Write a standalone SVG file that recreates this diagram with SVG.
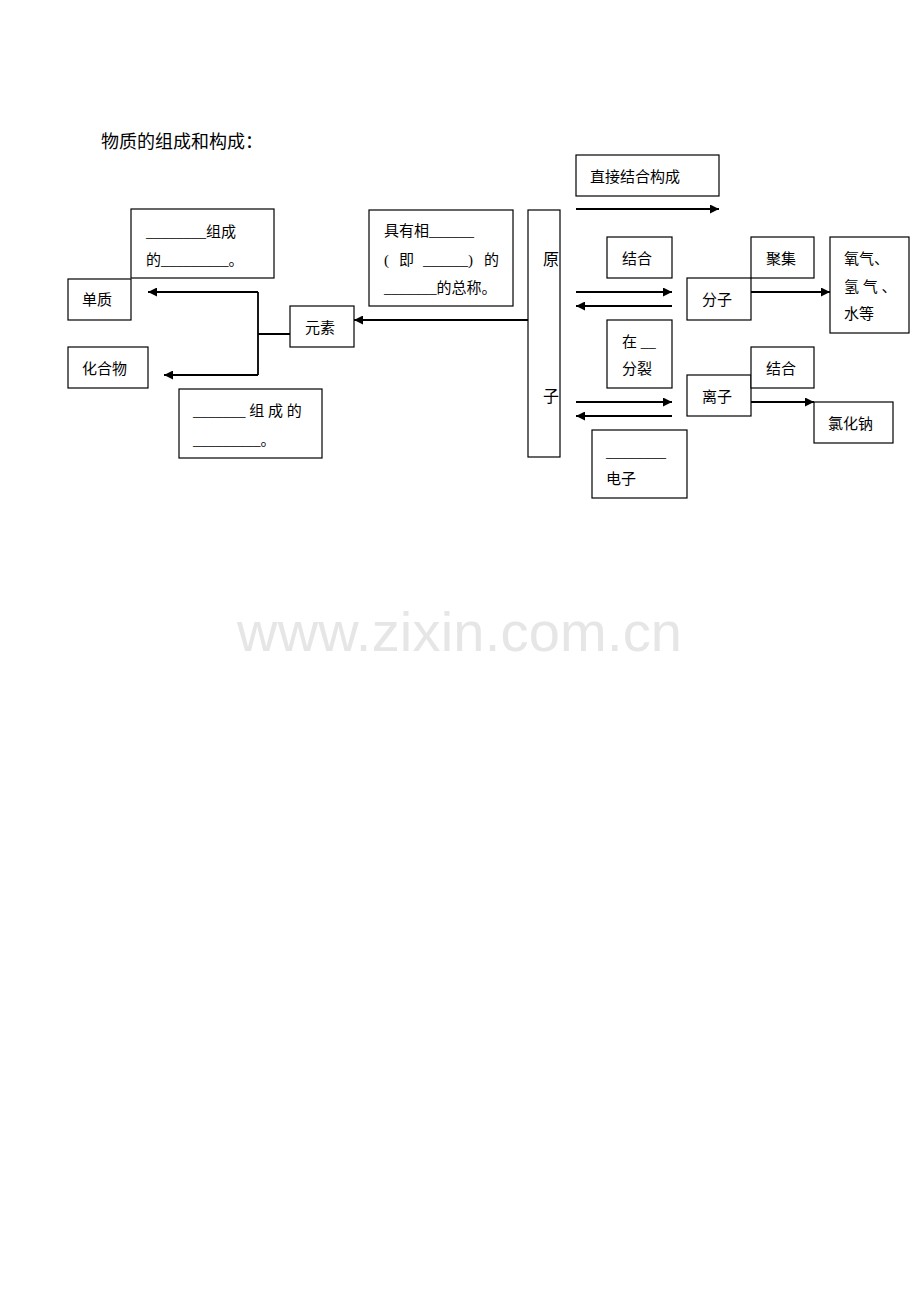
<svg xmlns="http://www.w3.org/2000/svg" width="920" height="1300" viewBox="0 0 920 1300">
<style>
.bx{fill:#fff;stroke:#000;stroke-width:1.2}
.t{font-family:"Liberation Serif","Noto Sans CJK SC",serif;font-size:15px;fill:#000}
.ln{fill:none;stroke:#000;stroke-width:1.8}
.ar{fill:none;stroke:#000;stroke-width:1.8;marker-end:url(#ah)}
.wm{font-family:"Liberation Sans",Arial,sans-serif;font-size:56px;fill:#e6e6e6}
</style>
<defs>
<marker id="ah" viewBox="0 0 10 10" refX="10" refY="5" markerWidth="11" markerHeight="9" markerUnits="userSpaceOnUse" orient="auto"><path d="M0,0 L10,5 L0,10 z" fill="#000"/></marker>
</defs>
<rect width="920" height="1300" fill="#fff"/>
<text class="wm" x="237" y="651" textLength="445">www.zixin.com.cn</text>
<text class="t" x="101" y="148" style="font-size:18px">物质的组成和构成：</text>

<g id="connectors">
<path class="ln" d="M290,334 H258 M258,292 V375"/>
<path class="ar" d="M258,292 H148"/>
<path class="ar" d="M258,375 H164"/>
<path class="ar" d="M528,320 H354"/>
<path class="ar" d="M576,209 H719"/>
<path class="ar" d="M576,292 H672"/>
<path class="ar" d="M672,306 H576"/>
<path class="ar" d="M576,402 H672"/>
<path class="ar" d="M672,416 H576"/>
<path class="ar" d="M751,292 H830"/>
<path class="ar" d="M751,402 H814"/>
</g>

<g id="danzhi"><rect class="bx" x="68" y="279" width="63" height="41"/><text class="t" x="82" y="305">单质</text></g>
<g id="note1"><rect class="bx" x="131" y="209" width="143" height="69"/>
<text class="t" x="146" y="237">________组成</text>
<text class="t" x="146" y="265">的_________。</text></g>
<g id="huahewu"><rect class="bx" x="68" y="347" width="80" height="41"/><text class="t" x="82" y="374">化合物</text></g>
<g id="note2"><rect class="bx" x="179" y="389" width="143" height="69"/>
<text class="t" x="193" y="416">_______ 组 成 的</text>
<text class="t" x="193" y="445">_________。</text></g>
<g id="yuansu"><rect class="bx" x="290" y="306" width="64" height="41"/><text class="t" x="305" y="333">元素</text></g>
<g id="note3"><rect class="bx" x="369" y="210" width="144" height="96"/>
<text class="t" x="384" y="236">具有相______</text>
<text class="t" x="384" y="265">(</text><text class="t" x="399" y="265">即</text><text class="t" x="423" y="265">______)</text><text class="t" x="484" y="265">的</text>
<text class="t" x="384" y="293">_______的总称。</text></g>
<g id="yuanzi"><rect class="bx" x="528" y="210" width="32" height="247"/>
<text class="t" x="543" y="265" style="font-size:16px">原</text>
<text class="t" x="543" y="402" style="font-size:16px">子</text></g>
<g id="zhijie"><rect class="bx" x="576" y="155" width="143" height="41"/><text class="t" x="590" y="182">直接结合构成</text></g>
<g id="jiehe1"><rect class="bx" x="607" y="237" width="65" height="41"/><text class="t" x="622" y="264">结合</text></g>
<g id="fenlie"><rect class="bx" x="607" y="320" width="65" height="68"/>
<text class="t" x="622" y="347">在 __</text>
<text class="t" x="622" y="374">分裂</text></g>
<g id="dianzi"><rect class="bx" x="592" y="430" width="95" height="68"/>
<text class="t" x="606" y="457">________</text>
<text class="t" x="606" y="484">电子</text></g>
<g id="fenzi"><rect class="bx" x="687" y="278" width="64" height="42"/><text class="t" x="702" y="305">分子</text></g>
<g id="juji"><rect class="bx" x="751" y="237" width="63" height="41"/><text class="t" x="766" y="264">聚集</text></g>
<g id="yangqi"><rect class="bx" x="830" y="237" width="79" height="96"/>
<text class="t" x="844" y="264">氧气、</text>
<text class="t" x="844" y="292">氢 气 、</text>
<text class="t" x="844" y="319">水等</text></g>
<g id="lizi"><rect class="bx" x="687" y="375" width="64" height="41"/><text class="t" x="702" y="402">离子</text></g>
<g id="jiehe2"><rect class="bx" x="751" y="347" width="63" height="41"/><text class="t" x="766" y="374">结合</text></g>
<g id="lvhuana"><rect class="bx" x="814" y="402" width="79" height="41"/><text class="t" x="828" y="429">氯化钠</text></g>
</svg>
